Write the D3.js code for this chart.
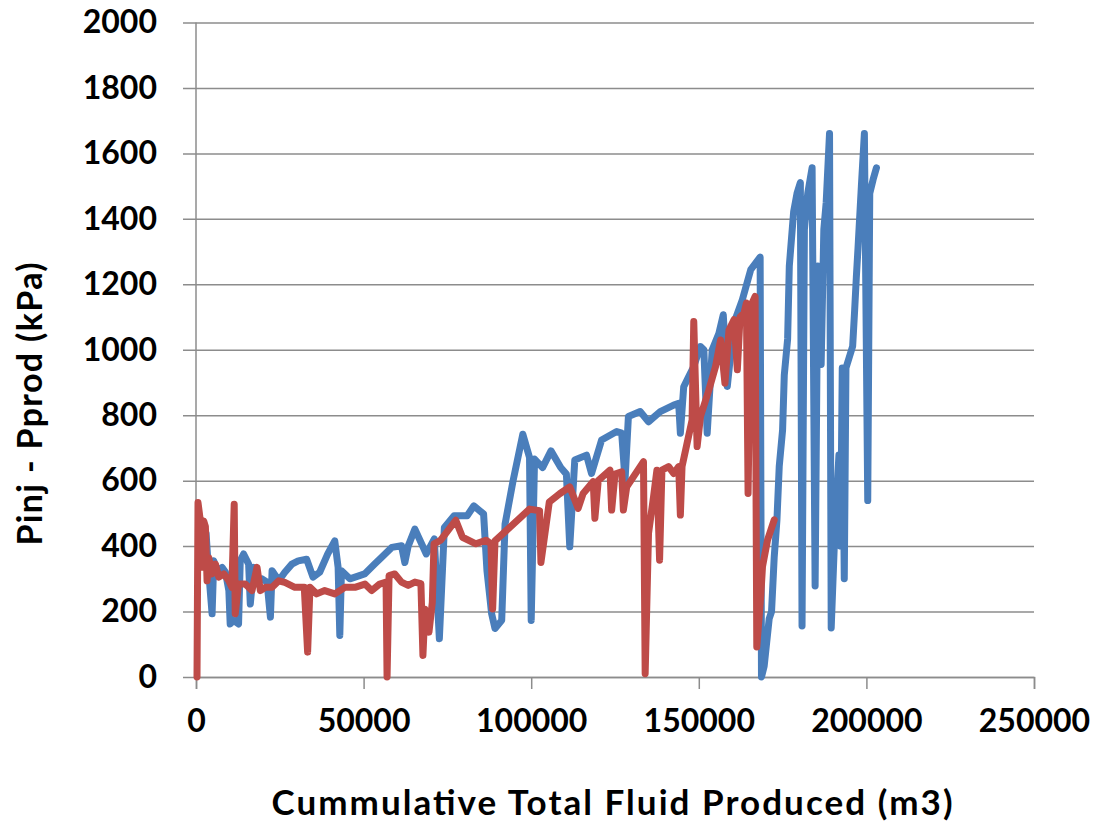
<!DOCTYPE html>
<html>
<head>
<meta charset="utf-8">
<script src="https://cdn.jsdelivr.net/npm/d3@7"></script>
<style>
  body { margin: 0; background: #fff; }
  svg { display: block; }
  .tick text { font-family: Lato, "Open Sans", sans-serif; font-weight: 700; fill: #000; }
  .axis-title { font-family: Lato, "Open Sans", sans-serif; font-weight: 700; fill: #000; }
</style>
</head>
<body>
<svg width="1101" height="823"></svg>
<script>
// cumulative fluid produced (m3) / pressure difference (kPa)
const blueX = [2300, 3000, 3600, 4800, 5300, 6300, 7800, 8800, 9800, 10200, 11200, 12700, 13200, 14200, 15700, 16200, 17200, 18200, 19700, 21200, 22200, 22700, 24700, 26500, 28600, 30500, 33000, 34900, 36900, 39300, 41400, 42400, 42900, 43400, 45900, 50300, 53300, 55400, 58400, 61300, 62300, 63300, 65300, 68700, 71100, 72600, 74100, 77000, 80900, 82900, 85800, 86800, 88200, 89200, 91200, 92200, 94600, 97500, 99500, 100000, 101000, 103400, 105900, 108800, 110500, 111500, 113000, 116500, 118000, 121000, 125500, 127000, 128000, 129000, 132500, 135000, 138500, 142500, 144000, 144500, 145500, 147000, 148500, 150500, 151500, 152500, 154000, 156000, 157300, 158500, 160500, 163000, 165500, 168300, 168700, 169500, 171000, 171700, 172500, 173300, 174000, 175000, 175500, 176500, 177000, 178300, 179300, 180300, 180800, 181500, 182500, 183800, 184700, 185500, 186500, 187300, 188000, 189000, 189500, 190500, 191800, 192300, 192800, 193400, 193900, 195900, 196500, 197000, 197500, 198500, 199400, 200400, 201000, 202000, 203000];
const blueY = [426, 440, 346, 193, 355, 325, 335, 320, 264, 162, 173, 162, 355, 376, 345, 223, 335, 294, 300, 290, 183, 325, 294, 320, 345, 355, 360, 305, 320, 376, 416, 335, 127, 325, 300, 315, 345, 366, 396, 401, 350, 400, 452, 376, 422, 117, 457, 493, 493, 523, 498, 325, 193, 148, 173, 467, 600, 742, 671, 173, 666, 640, 691, 640, 620, 398, 663, 678, 622, 724, 750, 745, 602, 796, 811, 780, 811, 831, 836, 745, 887, 918, 949, 1010, 1000, 745, 1000, 1050, 1107, 888, 1082, 1153, 1245, 1283, 0, 33, 178, 200, 367, 478, 644, 755, 922, 1033, 1256, 1422, 1478, 1511, 156, 1367, 1478, 1556, 278, 1256, 955, 1367, 1450, 1661, 150, 422, 678, 400, 944, 300, 944, 1011, 1122, 1222, 1311, 1500, 1661, 539, 1478, 1520, 1556];

const redX = [300, 600, 1300, 1800, 2300, 2800, 3300, 3800, 4800, 5800, 6800, 8300, 9800, 10700, 11400, 11700, 12700, 14700, 16700, 18200, 19200, 20700, 22700, 24700, 26500, 29500, 32300, 33300, 34000, 36000, 38400, 41400, 44400, 47400, 50400, 52400, 54800, 56700, 57000, 57600, 59300, 61300, 63300, 65300, 67100, 67700, 68300, 69500, 70500, 71000, 73000, 77500, 79500, 83500, 86500, 88000, 88500, 89200, 93600, 99500, 102500, 102900, 105400, 108500, 111500, 114000, 115500, 118500, 119000, 120000, 123500, 124000, 125000, 127000, 127500, 128500, 133500, 134000, 135000, 136500, 137500, 138300, 139000, 141000, 142500, 144000, 144500, 145000, 146500, 148000, 148500, 149500, 150500, 153000, 155000, 156500, 157800, 159000, 160500, 161500, 162300, 163500, 164200, 164700, 165500, 166800, 167300, 168500, 169000, 170500, 172500];
const redY = [0, 533, 477, 335, 477, 460, 294, 365, 315, 345, 305, 315, 294, 274, 528, 193, 284, 284, 264, 335, 264, 274, 274, 294, 289, 274, 274, 76, 274, 254, 264, 254, 274, 274, 284, 264, 284, 290, 0, 310, 315, 290, 280, 290, 285, 66, 207, 137, 228, 407, 418, 479, 427, 407, 418, 407, 208, 416, 457, 513, 508, 350, 535, 560, 581, 515, 561, 597, 485, 600, 632, 510, 620, 627, 510, 581, 658, 10, 439, 551, 632, 357, 632, 643, 622, 643, 495, 643, 714, 785, 1086, 704, 796, 877, 949, 1030, 898, 1060, 1092, 939, 1100, 1112, 1143, 561, 1133, 1163, 92, 250, 337, 418, 480];

const xTicks = [0, 50000, 100000, 150000, 200000, 250000];
const yTicks = [0, 200, 400, 600, 800, 1000, 1200, 1400, 1600, 1800, 2000];

const margin = { left: 196, right: 67, top: 22.5, bottom: 146 };
const svg = d3.select( 'svg' );
const width = +svg.attr( 'width' ) - margin.left - margin.right;
const height = +svg.attr( 'height' ) - margin.top - margin.bottom;

const plotGroup = svg.append( 'g' )
    .attr( 'transform', `translate(${margin.left},${margin.top})` );

const xScale = d3.scaleLinear().domain( [ 0, 250000 ] ).range( [ 0, width ] );
const yScale = d3.scaleLinear().domain( [ 0, 2000 ] ).range( [ height, 0 ] );

// horizontal gridlines with short outer ticks on the left
const yAxisGroup = plotGroup.append( 'g' )
    .attr( 'class', 'y-axis' )
    .attr( 'transform', 'translate(-13,0)' )
    .call( d3.axisLeft( yScale ).tickValues( yTicks ).tickSize( -(width + 13) ).tickPadding( 26 ).tickFormat( d3.format( 'd' ) ) );
yAxisGroup.select( '.domain' ).remove();
yAxisGroup.selectAll( '.tick line' ).attr( 'stroke', '#8c8c8c' ).attr( 'stroke-width', 1.5 );
yAxisGroup.selectAll( '.tick text' ).style( 'font-size', '32px' );

plotGroup.append( 'line' )
    .attr( 'x1', 0 ).attr( 'x2', 0 )
    .attr( 'y1', 0 ).attr( 'y2', height )
    .attr( 'stroke', '#8c8c8c' ).attr( 'stroke-width', 1.5 );

const xAxisGroup = plotGroup.append( 'g' )
    .attr( 'class', 'x-axis' )
    .attr( 'transform', `translate(0,${height})` )
    .call( d3.axisBottom( xScale ).tickValues( xTicks ).tickSize( 12 ).tickPadding( 20 ).tickFormat( d3.format( 'd' ) ) );
xAxisGroup.select( '.domain' ).attr( 'stroke', '#8c8c8c' ).attr( 'stroke-width', 1.5 );
xAxisGroup.selectAll( '.tick line' ).attr( 'stroke', '#8c8c8c' ).attr( 'stroke-width', 1.5 );
xAxisGroup.selectAll( '.tick text' ).style( 'font-size', '32px' );

const line = d3.line()
    .x( d => xScale( d[ 0 ] ) )
    .y( d => yScale( d[ 1 ] ) );

const series = [
    { xs: blueX, ys: blueY, color: '#4a7ebb' },
    { xs: redX, ys: redY, color: '#be4b48' }
];

plotGroup.selectAll( 'path.series' ).data( series )
    .enter().append( 'path' )
    .attr( 'class', 'series' )
    .attr( 'd', s => line( s.xs.map( ( x, i ) => [ x, s.ys[ i ] ] ) ) )
    .attr( 'fill', 'none' )
    .attr( 'stroke', s => s.color )
    .attr( 'stroke-width', 7 )
    .attr( 'stroke-linejoin', 'round' )
    .attr( 'stroke-linecap', 'round' );

// axis titles
svg.append( 'text' )
    .attr( 'class', 'axis-title' )
    .attr( 'x', 612 )
    .attr( 'y', 815 )
    .attr( 'textLength', 681 )
    .attr( 'lengthAdjust', 'spacing' )
    .style( 'font-size', '35px' )
    .style( 'text-anchor', 'middle' )
    .text( 'Cummulative Total Fluid Produced (m3)' );

svg.append( 'text' )
    .attr( 'class', 'axis-title' )
    .attr( 'transform', 'translate(42,404) rotate(-90)' )
    .attr( 'textLength', 283 )
    .attr( 'lengthAdjust', 'spacing' )
    .style( 'font-size', '34px' )
    .style( 'text-anchor', 'middle' )
    .text( 'Pinj - Pprod (kPa)' );
</script>
</body>
</html>
